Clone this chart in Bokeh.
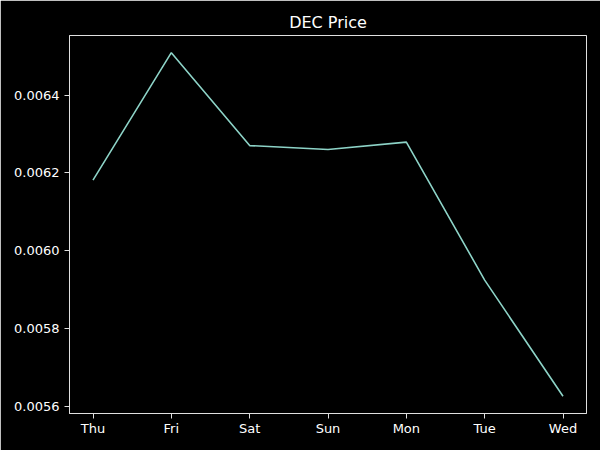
from bokeh.plotting import figure
from bokeh.models import Range1d, FixedTicker, PrintfTickFormatter
from bokeh.embed import file_html
from bokeh.resources import INLINE

days = ["Thu", "Fri", "Sat", "Sun", "Mon", "Tue", "Wed"]
price = [0.006181, 0.006509, 0.006270, 0.006260, 0.006279, 0.005924, 0.005625]
y_ticks = [0.0056, 0.0058, 0.0060, 0.0062, 0.0064]

x = list(range(len(days)))
ymin, ymax = min(price), max(price)
pad = (ymax - ymin) * 0.05

p = figure(width=600, height=450, output_backend="svg", toolbar_location=None,
           x_range=Range1d(-0.3, len(days) - 1 + 0.3),
           y_range=Range1d(ymin - pad, ymax + pad),
           title="DEC Price",
           min_border_left=69, min_border_right=14, min_border_top=35, min_border_bottom=37)

p.background_fill_color = "black"
p.border_fill_color = "black"
p.outline_line_color = "#e0e0e0"
p.outline_line_width = 1
p.grid.visible = False

p.title.align = "center"
p.title.text_color = "white"
p.title.text_font = "DejaVu Sans"
p.title.text_font_size = "16px"
p.title.text_font_style = "normal"
p.title.standoff = 7

p.line(x, price, line_color="#8dd3c7", line_width=1.6)

for ax in (p.xaxis[0], p.yaxis[0]):
    ax.axis_line_color = "#e0e0e0"
    ax.major_tick_line_color = "#e0e0e0"
    ax.minor_tick_line_color = None
    ax.major_tick_out = 5
    ax.major_tick_in = 0
    ax.major_label_text_color = "white"
    ax.major_label_text_font = "DejaVu Sans"
    ax.major_label_text_font_size = "13px"
    ax.major_label_standoff = 5

p.xaxis[0].major_label_standoff = 2
p.xaxis[0].ticker = FixedTicker(ticks=x)
p.xaxis[0].major_label_overrides = {i: d for i, d in enumerate(days)}
p.yaxis[0].ticker = FixedTicker(ticks=y_ticks)
p.yaxis[0].formatter = PrintfTickFormatter(format="%.4f")

open("out.html", "w").write(file_html(p, INLINE))
